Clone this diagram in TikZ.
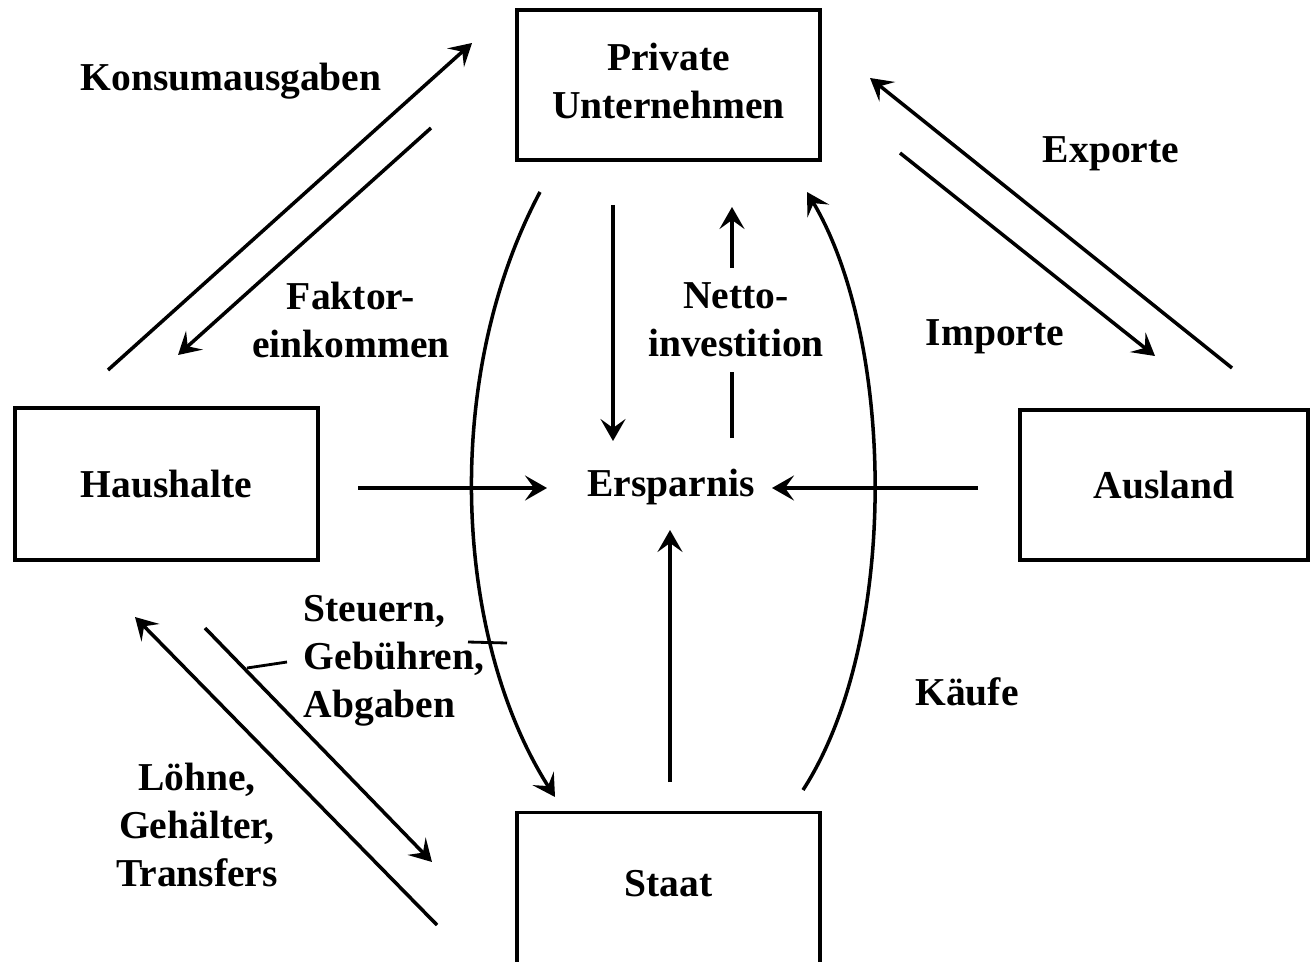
\documentclass[tikz,border=0pt]{standalone}
\usepackage{fontspec}
\setmainfont{Liberation Serif}
\usetikzlibrary{arrows.meta}
\newcommand{\fs}{\fontsize{22.5}{27.3}\selectfont\bfseries}
\begin{document}
\begin{tikzpicture}[x=0.02cm,y=-0.02cm, line width=2pt,
  box/.style={draw, line width=2.2pt, minimum width=6.06cm, minimum height=3cm, align=center, inner sep=0pt, font=\fs},
  lbl/.style={align=center, inner sep=0pt, font=\fs},
  flow/.style={-{Stealth[length=4.4mm,width=5mm,inset=1.8mm]}},
  plain/.style={line width=1.6pt}
]
\useasboundingbox (0,0) rectangle (1310,962);
\clip (0,0) rectangle (1310,962);

% boxes
\draw[line width=2.2pt] (517,10) rectangle (820,160);
\node[lbl] (pu) at (668.5,81) {Private\\Unternehmen};
\node[box, minimum height=3.04cm] (hh) at (166.5,484) {Haushalte};
\node[box, minimum width=5.76cm] (al) at (1164,485) {Ausland};
\node[box, minimum height=3.3cm] (st) at (668.5,895) {};
\node[lbl] (stt) at (668.5,884) {Staat};

% labels
\node[lbl] (konsum) at (231,81) {Konsumausgaben};
\node[lbl] (faktor) at (351,320) {Faktor-\\einkommen};
\node[lbl] (exp) at (1111,154) {Exporte};
\node[lbl] (imp) at (995,337) {Importe};
\node[lbl] (netto) at (736,320) {Netto-\\investition};
\node[lbl] (ersp) at (671,487) {Ersparnis};
\node[lbl, align=left, anchor=west] (steuern) at (302,661) {Steuern,\\Gebühren,\\Abgaben};
\node[lbl] (loehne) at (197,825) {Löhne,\\Gehälter,\\Transfers};
\node[lbl] (kaeufe) at (967,692) {Käufe};

% coordinates
\coordinate (k1) at (108,370); \coordinate (k2) at (472,43);
\coordinate (f1) at (431,128); \coordinate (f2) at (178,355);
\coordinate (e1) at (1232,368); \coordinate (e2) at (870,78);
\coordinate (i1) at (900,153); \coordinate (i2) at (1155,356);
\coordinate (s1) at (205,628); \coordinate (s2) at (432,862);
\coordinate (l1) at (437,925); \coordinate (l2) at (135,617);
\coordinate (h1) at (358,488); \coordinate (h2) at (547,488);
\coordinate (a1) at (978,488); \coordinate (a2) at (772,488);
\coordinate (z1) at (670,782); \coordinate (z2) at (670,530);
\coordinate (p1) at (613,205); \coordinate (p2) at (613,441);
\coordinate (n1) at (732,438); \coordinate (n2) at (732,372);
\coordinate (n3) at (732,268); \coordinate (n4) at (732,207);
\coordinate (c1) at (540,192); \coordinate (c2) at (555,797);
\coordinate (d1) at (803,790); \coordinate (d2) at (807,192);
\coordinate (t1) at (247,668); \coordinate (t2) at (287,662);
\coordinate (u1) at (468,642); \coordinate (u2) at (507,643);

% connectors
\draw[flow] (k1) -- (k2);
\draw[flow] (f1) -- (f2);
\draw[flow] (e1) -- (e2);
\draw[flow] (i1) -- (i2);
\draw[flow] (s1) -- (s2);
\draw[flow] (l1) -- (l2);
\draw[flow] (h1) -- (h2);
\draw[flow] (a1) -- (a2);
\draw[flow] (z1) -- (z2);
\draw[flow] (p1) -- (p2);
\draw (n1) -- (n2);
\draw[flow] (n3) -- (n4);
\draw[flow] (c1) .. controls (440,380) and (455,640) .. (c2);
\draw[flow] (d1) .. controls (900,640) and (895,340) .. (d2);
\draw[plain] (t1) -- (t2);
\draw[plain] (u1) -- (u2);
\end{tikzpicture}
\end{document}
